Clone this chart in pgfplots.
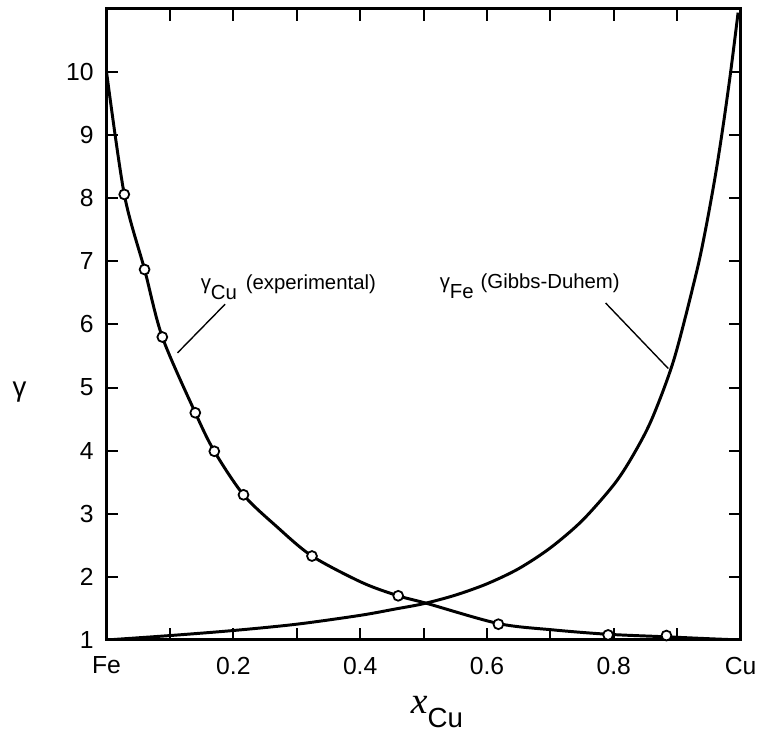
\documentclass[border=0pt]{standalone}
\usepackage{fontspec}
\setmainfont{Liberation Sans}
\newfontfamily\timesfont{Liberation Serif}
\usepackage{pgfplots}
\pgfplotsset{compat=1.18}

\begin{document}
\begin{tikzpicture}
\begin{axis}[
    scale only axis,
    width=321pt,
    height=319.5pt,
    xmin=0, xmax=1,
    ymin=1, ymax=11,
    xtick={0,0.1,0.2,0.3,0.4,0.5,0.6,0.7,0.8,0.9,1},
    xticklabels={Fe,,0.2,,0.4,,0.6,,0.8,,Cu},
    ytick={1,2,3,4,5,6,7,8,9,10},
    tick align=inside,
    major tick length=6pt,
    axis line style={line width=1.5pt},
    tick style={line width=1pt, black},
    tick label style={font=\fontsize{12.5}{14}\selectfont},
    x tick label style={yshift=-5pt},
    y tick label style={xshift=-3pt},
    /pgf/number format/assume math mode=true,
    xlabel={{\fontsize{19}{22}\selectfont\timesfont\itshape x}\raisebox{-7pt}{\fontsize{14}{16}\selectfont Cu}},
    xlabel style={at={(rel axis cs:0.521,-0.114)}, anchor=center},
    ylabel={\fontsize{14}{16}\selectfont γ},
    ylabel style={at={(rel axis cs:-0.137,0.393)}, rotate=-90, anchor=center},
]
% gamma_Cu, experimental curve
\addplot[black, line width=1.5pt, smooth] coordinates {
(0,10.0) (0.028,8.06) (0.060,6.87) (0.088,5.80) (0.140,4.60) (0.170,3.99)
(0.216,3.30) (0.268,2.80) (0.324,2.33) (0.403,1.91) (0.460,1.70) (0.505,1.58)
(0.618,1.26) (0.704,1.16) (0.791,1.09) (0.883,1.05) (0.95,1.02) (1.0,1.0)
};
% gamma_Fe from Gibbs-Duhem
\addplot[black, line width=1.5pt, smooth] coordinates {
(0,1.0) (0.1,1.07) (0.2,1.15) (0.3,1.25) (0.4,1.39) (0.455,1.49)
(0.5,1.575) (0.55,1.71) (0.6,1.89) (0.65,2.13) (0.7,2.46) (0.75,2.89)
(0.8,3.46) (0.83,3.92) (0.86,4.50) (0.895,5.45) (0.93,6.81) (0.945,7.52)
(0.96,8.35) (0.972,9.12) (0.984,9.98) (0.996,10.94)
};
% measured points
\addplot[only marks, mark=*, mark size=2.5pt, mark options={fill=white, draw=black, line width=0.9pt}] coordinates {
(0.028,8.06) (0.060,6.87) (0.088,5.80) (0.140,4.60) (0.170,3.99) (0.216,3.30)
(0.324,2.33) (0.460,1.70) (0.618,1.25) (0.791,1.08) (0.883,1.07)
};
\draw[line width=0.7pt] (axis cs:0.187,6.32) -- (axis cs:0.112,5.55);
\draw[line width=0.7pt] (axis cs:0.787,6.34) -- (axis cs:0.886,5.30);
\node[anchor=base west, inner sep=0pt, font=\fontsize{10.3}{12}\selectfont] at (axis cs:0.148,6.56)
    {γ\raisebox{-5.5pt}{Cu}\hspace{4.5pt}(experimental)};
\node[anchor=base west, inner sep=0pt, font=\fontsize{10.3}{12}\selectfont] at (axis cs:0.525,6.57)
    {γ\raisebox{-5pt}{Fe}\hspace{3.5pt}(Gibbs-Duhem)};
\coordinate (bbl) at (rel axis cs:-0.168,-0.1455);
\coordinate (btr) at (rel axis cs:1.020,1.014);
\end{axis}
\path (bbl) (btr);
\end{tikzpicture}
\end{document}
